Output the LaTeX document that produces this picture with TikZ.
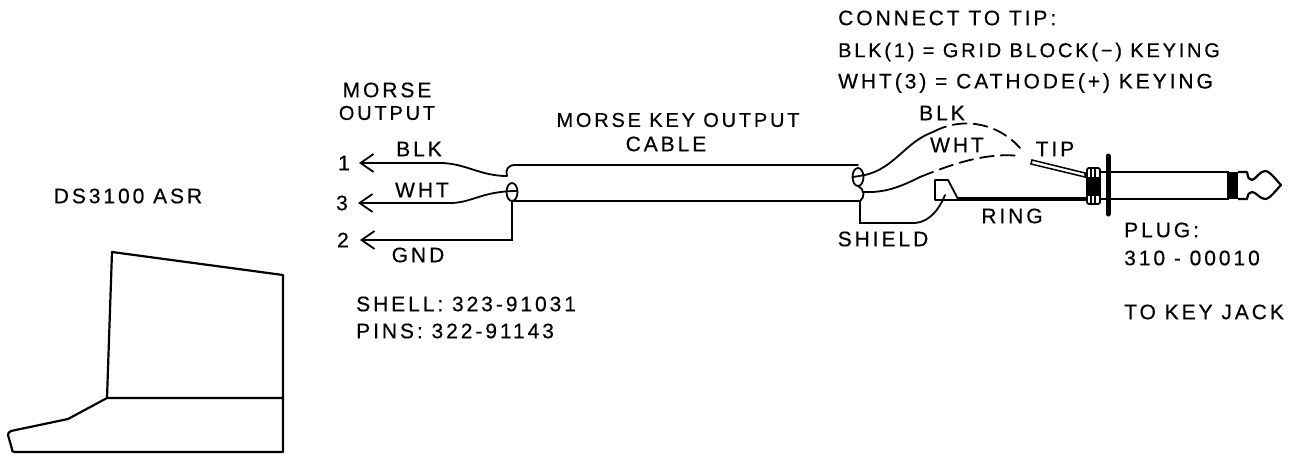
\documentclass[tikz,border=0pt]{standalone}
\usepackage{fontspec}
\setmainfont[LetterSpace=14,FakeBold=0.5]{Liberation Sans}
\usetikzlibrary{positioning,arrows.meta}
\tikzset{
  lbl/.style={draw=none,inner sep=0pt,font=\fontsize{21}{21}\selectfont},
  lblleft/.style={lbl,anchor=west},
  lblsmall/.style={font=\fontsize{20}{21}\selectfont},
  pinlabel/.style={lbl,anchor=east},
  wire/.style={line width=1.8pt,line cap=round},
  lead/.style={wire,{Straight Barb[length=13pt,width=18pt,line width=1.8pt]}-},
  dashwire/.style={wire,dash pattern=on 14pt off 7pt},
  case/.style={line width=2.2pt,line join=round}
}

\begin{document}
\begin{tikzpicture}[x=1pt,y=-1pt]
    \useasboundingbox (0,0) rectangle (1298,458);

    % Top notes
    \node (note1) [lblleft] at (838,18) {CONNECT TO TIP:};
    \node (note2) [lblleft,lblsmall] at (838,52) {BLK(1) = GRID BLOCK(−) KEYING};
    \node (note3) [lblleft] at (838,83) {WHT(3) = CATHODE(+) KEYING};

    \node (morse) [lbl] at (387,90) {MORSE};
    \node (output) [lbl,lblsmall] at (387,113) {OUTPUT};
    \node (cablename) [lbl,lblsmall] at (678,120) {MORSE KEY OUTPUT};
    \node (cablename2) [lbl] at (666,144) {CABLE};
    \node (asrlabel) [lbl] at (128,196) {DS3100 ASR};

    \node (shell) [lblleft] at (356,304) {SHELL: 323-91031};
    \node (pins) [lblleft] at (356,331) {PINS: 322-91143};

    % Pin numbers
    \node (pin1) [pinlabel,inner xsep=9pt] at (359,163) {1};
    \node (pin3) [pinlabel,inner xsep=10pt] at (358,203) {3};
    \node (pin2) [pinlabel,inner xsep=11pt] at (360,240) {2};

    \node (blkleft) [lbl] at (419,149) {BLK};
    \node (whtleft) [lbl] at (422,190) {WHT};
    \node (gndleft) [lbl] at (418,255) {GND};

    \node (blkright) [lbl] at (942,113) {BLK};
    \node (whtright) [lbl] at (957,145) {WHT};
    \node (tiplabel) [lbl] at (1055,149) {TIP};
    \node (ringlabel) [lbl] at (1012,216) {RING};
    \node (shieldlabel) [lbl] at (883,239) {SHIELD};
    \node (plug) [lblleft] at (1124,230) {PLUG:};
    \node (plugno) [lblleft] at (1124,258) {310 - 00010};
    \node (keyjack) [lblleft] at (1124,312) {TO KEY JACK};

    % Cable
    \coordinate (ltop) at (515,165);
    \coordinate (rtop) at (858,165);
    \coordinate (lbot) at (512,201);
    \coordinate (rbot) at (860,201);
    \coordinate (lblk) at (507,176);
    \coordinate (lwht) at (507,191);
    \coordinate (rblk) at (853,177);
    \coordinate (rwht) at (863,192);
    \draw[wire] (lblk) .. controls (505,170) and (508,165) .. (ltop) -- (rtop);
    \draw[wire] (lbot) -- (rbot);
    \draw[wire] (512,192) ellipse [x radius=5.5,y radius=9];
    \draw[wire] (858,177) ellipse [x radius=5.5,y radius=9];
    \draw[wire] (858,186) .. controls (865,190) and (865,197) .. (rbot);

    % Wires on the left
    \draw[lead] (pin1.east) -- (440,163) .. controls (465,163) and (480,176) .. (lblk);
    \draw[lead] (pin3.east) -- (450,203) .. controls (472,203) and (482,191) .. (517,191);
    \draw[lead] (pin2.east) -- (512,240) -- (lbot);

    % Wires on the right
    \coordinate (blkend) at (1020,148);
    \coordinate (whtend) at (1020,156);
    \coordinate (blkbreak) at (933,132);
    \coordinate (whtbreak) at (920,177);
    \draw[wire] (rblk) -- (865,175) .. controls (895,168) and (905,142) .. (blkbreak);
    \draw[dashwire] (blkbreak) .. controls (965,115) and (1000,125) .. (blkend);
    \draw[wire] (rwht) .. controls (885,193) and (900,187) .. (whtbreak);
    \draw[dashwire] (whtbreak) .. controls (950,165) and (985,152) .. (whtend);

    % Shield and ring lug
    \coordinate (lugfoot) at (945,195);
    \draw[wire] (rbot) -- (860,223) -- (915,223) .. controls (930,222) and (940,208) .. (lugfoot);
    \draw[wire,line join=round] (958,199) -- (948,180) -- (935,180) -- (935,200) -- (958,200);

    % Plug
    \coordinate (collarleft) at (1087,199);
    \draw[line width=3.5pt] (958,199) -- (collarleft);
    \draw[line width=1.5pt,fill=white] (1032,160) -- (1085,173) -- (1085,177) -- (1031,164) -- cycle;
    \draw[wire,rounded corners=2pt] (1087,168) rectangle (1100,204);
    \fill (1087,177) rectangle (1100,196);
    \foreach \slotx in {1091,1095} {
      \draw[line width=1.2pt] (\slotx,169) -- (\slotx,177);
      \draw[line width=1.2pt] (\slotx,196) -- (\slotx,203);
    }
    \draw[line width=2pt] (1100,172) -- (1228,172) -- (1228,199) -- (1100,199);
    \fill (1228,172) rectangle (1238,199);
    \draw[line width=2.2pt,line join=round] (1238,172) -- (1247,172) .. controls (1248,178) and (1249,180) .. (1252,180)
       .. controls (1256,179) and (1260,171) .. (1265,171) .. controls (1270,171) and (1276,180) .. (1281,185)
       .. controls (1276,190) and (1270,199) .. (1265,199) .. controls (1260,199) and (1256,192) .. (1252,192)
       .. controls (1249,192) and (1248,194) .. (1247,199) -- (1238,199);
    \draw[line width=5pt,line cap=round] (1108,156) -- (1108,214);

    % Terminal
    \draw[case] (107,398) -- (112,252) -- (283,275) -- (283,452) -- (14,452)
       .. controls (12,452) and (12,450) .. (12,449) -- (8,435)
       .. controls (8,433) and (9,432) .. (11,431) -- (68,419) -- (107,398) -- (283,398);
\end{tikzpicture}
\end{document}
